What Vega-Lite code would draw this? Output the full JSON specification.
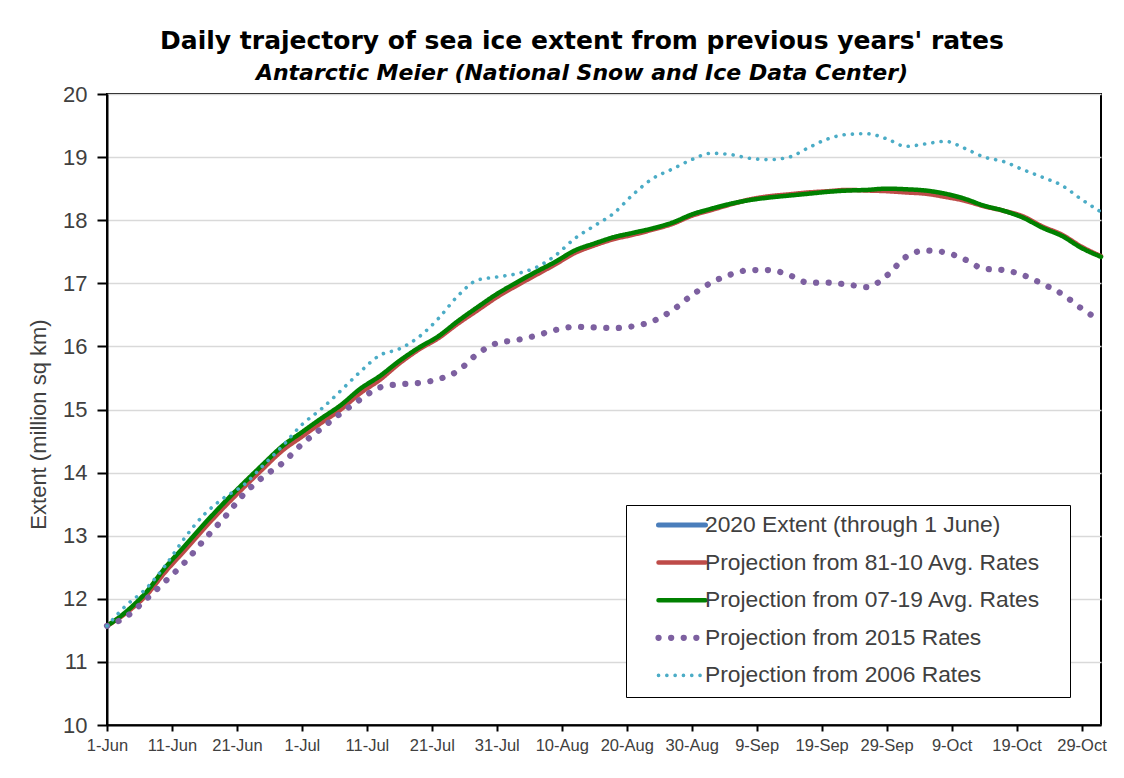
{
  "$schema": "https://vega.github.io/schema/vega-lite/v6.json",
  "width": 994,
  "height": 631,
  "autosize": "none",
  "padding": {"left": 107, "top": 94, "right": 23, "bottom": 53},
  "background": "white",
  "config": {"view": {"stroke": "black", "strokeWidth": 2}},
  "title": {
    "text": "Daily trajectory of sea ice extent from previous years' rates",
    "subtitle": "Antarctic Meier (National Snow and Ice Data Center)",
    "anchor": "middle",
    "dx": -22,
    "offset": -1,
    "font": "DejaVu Sans",
    "fontSize": 25,
    "fontWeight": "bold",
    "color": "black",
    "subtitleFont": "DejaVu Sans",
    "subtitleFontSize": 22,
    "subtitleFontWeight": "bold",
    "subtitleFontStyle": "italic",
    "subtitleColor": "black",
    "subtitlePadding": 9
  },
  "data": {
    "values": [
      {"d": "2020-06-01", "a": 11.56, "r": 11.57, "g": 11.57, "p": 11.57, "c": 11.57},
      {"d": "2020-06-04", "r": 11.78, "g": 11.80, "p": 11.72, "c": 11.90},
      {"d": "2020-06-07", "r": 12.05, "g": 12.10, "p": 11.99, "c": 12.16},
      {"d": "2020-06-10", "r": 12.43, "g": 12.50, "p": 12.28, "c": 12.53},
      {"d": "2020-06-13", "r": 12.77, "g": 12.84, "p": 12.58, "c": 12.97},
      {"d": "2020-06-16", "r": 13.12, "g": 13.19, "p": 12.94, "c": 13.34},
      {"d": "2020-06-19", "r": 13.45, "g": 13.52, "p": 13.28, "c": 13.60},
      {"d": "2020-06-22", "r": 13.76, "g": 13.83, "p": 13.65, "c": 13.80},
      {"d": "2020-06-25", "r": 14.06, "g": 14.13, "p": 13.93, "c": 14.11},
      {"d": "2020-06-28", "r": 14.35, "g": 14.42, "p": 14.15, "c": 14.42},
      {"d": "2020-07-01", "r": 14.57, "g": 14.64, "p": 14.45, "c": 14.76},
      {"d": "2020-07-04", "r": 14.79, "g": 14.86, "p": 14.70, "c": 15.01},
      {"d": "2020-07-07", "r": 15.00, "g": 15.07, "p": 14.94, "c": 15.30},
      {"d": "2020-07-10", "r": 15.26, "g": 15.33, "p": 15.16, "c": 15.60},
      {"d": "2020-07-13", "r": 15.47, "g": 15.53, "p": 15.35, "c": 15.86},
      {"d": "2020-07-16", "r": 15.73, "g": 15.77, "p": 15.40, "c": 15.96},
      {"d": "2020-07-19", "r": 15.95, "g": 15.98, "p": 15.42, "c": 16.15},
      {"d": "2020-07-22", "r": 16.13, "g": 16.16, "p": 15.48, "c": 16.44},
      {"d": "2020-07-25", "r": 16.36, "g": 16.40, "p": 15.61, "c": 16.80},
      {"d": "2020-07-28", "r": 16.57, "g": 16.62, "p": 15.88, "c": 17.05},
      {"d": "2020-07-31", "r": 16.78, "g": 16.83, "p": 16.05, "c": 17.10},
      {"d": "2020-08-03", "r": 16.96, "g": 17.01, "p": 16.10, "c": 17.15},
      {"d": "2020-08-06", "r": 17.13, "g": 17.18, "p": 16.17, "c": 17.25},
      {"d": "2020-08-09", "r": 17.30, "g": 17.34, "p": 16.26, "c": 17.44},
      {"d": "2020-08-12", "r": 17.48, "g": 17.52, "p": 16.31, "c": 17.71},
      {"d": "2020-08-15", "r": 17.60, "g": 17.63, "p": 16.30, "c": 17.91},
      {"d": "2020-08-18", "r": 17.70, "g": 17.73, "p": 16.29, "c": 18.11},
      {"d": "2020-08-21", "r": 17.77, "g": 17.80, "p": 16.32, "c": 18.41},
      {"d": "2020-08-24", "r": 17.85, "g": 17.87, "p": 16.40, "c": 18.66},
      {"d": "2020-08-27", "r": 17.94, "g": 17.96, "p": 16.57, "c": 18.81},
      {"d": "2020-08-30", "r": 18.07, "g": 18.09, "p": 16.81, "c": 18.96},
      {"d": "2020-09-02", "r": 18.16, "g": 18.18, "p": 17.01, "c": 19.06},
      {"d": "2020-09-05", "r": 18.25, "g": 18.26, "p": 17.14, "c": 19.04},
      {"d": "2020-09-08", "r": 18.33, "g": 18.32, "p": 17.21, "c": 18.98},
      {"d": "2020-09-11", "r": 18.38, "g": 18.36, "p": 17.21, "c": 18.96},
      {"d": "2020-09-14", "r": 18.41, "g": 18.39, "p": 17.13, "c": 19.00},
      {"d": "2020-09-17", "r": 18.44, "g": 18.42, "p": 17.01, "c": 19.15},
      {"d": "2020-09-20", "r": 18.46, "g": 18.45, "p": 17.01, "c": 19.29},
      {"d": "2020-09-23", "r": 18.48, "g": 18.47, "p": 16.98, "c": 19.36},
      {"d": "2020-09-26", "r": 18.47, "g": 18.48, "p": 16.94, "c": 19.37},
      {"d": "2020-09-29", "r": 18.46, "g": 18.50, "p": 17.12, "c": 19.29},
      {"d": "2020-10-02", "r": 18.44, "g": 18.49, "p": 17.42, "c": 19.17},
      {"d": "2020-10-05", "r": 18.42, "g": 18.47, "p": 17.52, "c": 19.21},
      {"d": "2020-10-08", "r": 18.37, "g": 18.42, "p": 17.49, "c": 19.25},
      {"d": "2020-10-11", "r": 18.31, "g": 18.34, "p": 17.38, "c": 19.14},
      {"d": "2020-10-14", "r": 18.22, "g": 18.23, "p": 17.23, "c": 19.00},
      {"d": "2020-10-17", "r": 18.15, "g": 18.15, "p": 17.21, "c": 18.93},
      {"d": "2020-10-20", "r": 18.06, "g": 18.04, "p": 17.13, "c": 18.80},
      {"d": "2020-10-23", "r": 17.90, "g": 17.88, "p": 16.99, "c": 18.68},
      {"d": "2020-10-26", "r": 17.77, "g": 17.75, "p": 16.83, "c": 18.55},
      {"d": "2020-10-29", "r": 17.58, "g": 17.56, "p": 16.60, "c": 18.33},
      {"d": "2020-11-01", "r": 17.43, "g": 17.42, "p": 16.40, "c": 18.13}
    ]
  },
  "transform": [
    {"fold": ["a", "r", "g", "p", "c"], "as": ["s", "v"]},
    {"filter": "isValid(datum.v)"}
  ],
  "mark": {"type": "line", "strokeCap": "round", "strokeJoin": "round", "interpolate": "monotone"},
  "encoding": {
    "x": {
      "field": "d",
      "type": "temporal",
      "scale": {
        "type": "utc",
        "domain": [
          {"year": 2020, "month": 6, "date": 1, "utc": true},
          {"year": 2020, "month": 11, "date": 1, "utc": true}
        ]
      },
      "axis": {
        "values": [
          {"year": 2020, "month": 6, "date": 1, "utc": true},
          {"year": 2020, "month": 6, "date": 11, "utc": true},
          {"year": 2020, "month": 6, "date": 21, "utc": true},
          {"year": 2020, "month": 7, "date": 1, "utc": true},
          {"year": 2020, "month": 7, "date": 11, "utc": true},
          {"year": 2020, "month": 7, "date": 21, "utc": true},
          {"year": 2020, "month": 7, "date": 31, "utc": true},
          {"year": 2020, "month": 8, "date": 10, "utc": true},
          {"year": 2020, "month": 8, "date": 20, "utc": true},
          {"year": 2020, "month": 8, "date": 30, "utc": true},
          {"year": 2020, "month": 9, "date": 9, "utc": true},
          {"year": 2020, "month": 9, "date": 19, "utc": true},
          {"year": 2020, "month": 9, "date": 29, "utc": true},
          {"year": 2020, "month": 10, "date": 9, "utc": true},
          {"year": 2020, "month": 10, "date": 19, "utc": true},
          {"year": 2020, "month": 10, "date": 29, "utc": true}
        ],
        "format": "%-d-%b",
        "title": null,
        "grid": false,
        "labelAngle": 0,
        "labelOverlap": false,
        "labelFlush": false,
        "labelFont": "Liberation Sans",
        "labelFontSize": 16.5,
        "labelColor": "#404040",
        "labelPadding": 6,
        "tickSize": 6,
        "tickWidth": 2,
        "tickColor": "black",
        "domainColor": "black",
        "domainWidth": 2
      }
    },
    "y": {
      "field": "v",
      "type": "quantitative",
      "scale": {"domain": [10, 20], "nice": false, "zero": false},
      "axis": {
        "values": [10, 11, 12, 13, 14, 15, 16, 17, 18, 19, 20],
        "title": "Extent (million sq km)",
        "titleFont": "Liberation Sans",
        "titleFontSize": 22,
        "titleFontWeight": "normal",
        "titleColor": "#404040",
        "titlePadding": 12,
        "titleY": 330,
        "labelFont": "Liberation Sans",
        "labelFontSize": 22,
        "labelColor": "#404040",
        "labelPadding": 10,
        "tickSize": 10,
        "tickWidth": 2,
        "tickColor": "black",
        "domainColor": "black",
        "domainWidth": 2,
        "grid": true,
        "gridColor": "#d9d9d9",
        "gridWidth": 1.5
      }
    },
    "color": {
      "field": "s",
      "type": "nominal",
      "scale": {
        "domain": ["a", "r", "g", "p", "c"],
        "range": ["#4a7ebb", "#be4b48", "#008000", "#7d60a0", "#4bacc6"]
      },
      "legend": {
        "orient": "none",
        "legendX": 519,
        "legendY": 411,
        "title": ".",
        "titleOrient": "right",
        "titleColor": "white",
        "titleFontSize": 2,
        "titlePadding": 20,
        "direction": "vertical",
        "padding": 9,
        "strokeColor": "black",
        "fillColor": "white",
        "symbolType": "stroke",
        "symbolSize": 2209,
        "symbolOffset": 20,
        "labelFont": "Liberation Sans",
        "labelFontSize": 22.8,
        "labelColor": "#404040",
        "labelOffset": -4,
        "labelLimit": 700,
        "clipHeight": 22,
        "rowPadding": 14.6,
        "labelExpr": "datum.label == 'a' ? '2020 Extent (through 1 June)' : datum.label == 'r' ? 'Projection from 81-10 Avg. Rates' : datum.label == 'g' ? 'Projection from 07-19 Avg. Rates' : datum.label == 'p' ? 'Projection from 2015 Rates' : 'Projection from 2006 Rates'",
        "encode": {"symbols": {"update": {"strokeCap": {"value": "round"}}}}
      }
    },
    "strokeDash": {
      "field": "s",
      "type": "nominal",
      "scale": {
        "domain": ["a", "r", "g", "p", "c"],
        "range": [[1, 0], [1, 0], [1, 0], [0.1, 12.5], [0.1, 8.2]]
      }
    },
    "strokeWidth": {
      "field": "s",
      "type": "nominal",
      "scale": {
        "type": "ordinal",
        "domain": ["a", "r", "g", "p", "c"],
        "range": [5, 4.5, 4.5, 6.2, 3.6]
      }
    }
  }
}
